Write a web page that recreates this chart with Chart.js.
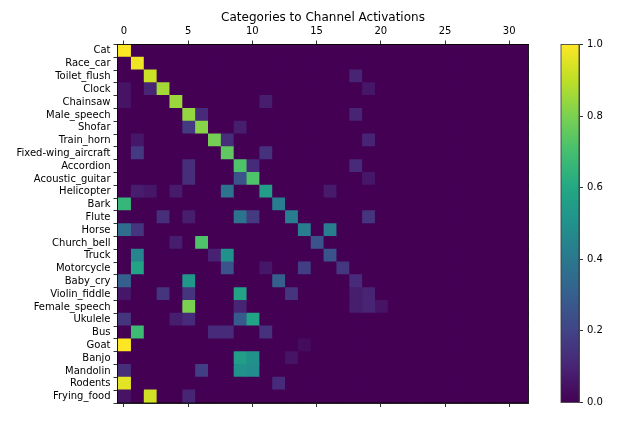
<!DOCTYPE html>
<html>
<head>
<meta charset="utf-8">
<script src="https://cdn.jsdelivr.net/npm/chart.js@4/dist/chart.umd.min.js"></script>
<style>
  body { margin: 0; background: #fff; }
  #wrap { position: relative; width: 623px; height: 422px; }
  #heat { position: absolute; left: 0; top: 0; }
  #cbar { position: absolute; left: 540px; top: 0; }
</style>
</head>
<body>
<div id="wrap">
  <canvas id="heat" width="623" height="422"></canvas>
  <canvas id="cbar" width="83" height="422"></canvas>
</div>
<script>
// Categories (rows, top to bottom)
const categories = [
    'Cat', 'Race_car', 'Toilet_flush', 'Clock', 'Chainsaw', 'Male_speech', 'Shofar',
    'Train_horn', 'Fixed-wing_aircraft', 'Accordion', 'Acoustic_guitar', 'Helicopter',
    'Bark', 'Flute', 'Horse', 'Church_bell', 'Truck', 'Motorcycle', 'Baby_cry',
    'Violin_fiddle', 'Female_speech', 'Ukulele', 'Bus', 'Goat', 'Banjo', 'Mandolin',
    'Rodents', 'Frying_food'
];

// Channels 0..31
const channels = [0, 1, 2, 3, 4, 5, 6, 7, 8, 9, 10, 11, 12, 13, 14, 15,
                  16, 17, 18, 19, 20, 21, 22, 23, 24, 25, 26, 27, 28, 29, 30, 31];

const xTicks = [0, 5, 10, 15, 20, 25, 30];
const cbarTicks = [0, 0.2, 0.4, 0.6, 0.8, 1.0];

// Non-zero activations per category: [channel, value]
const activations = [
    [[0, 1.0]],
    [[1, 0.98]],
    [[2, 0.92], [18, 0.1]],
    [[0, 0.05], [2, 0.1], [3, 0.86], [19, 0.06]],
    [[0, 0.05], [4, 0.85], [11, 0.08]],
    [[5, 0.84], [6, 0.12], [18, 0.1]],
    [[5, 0.17], [6, 0.82], [9, 0.08]],
    [[1, 0.06], [7, 0.79], [8, 0.13], [19, 0.1]],
    [[1, 0.17], [8, 0.75], [11, 0.14]],
    [[5, 0.13], [9, 0.72], [10, 0.12], [18, 0.12]],
    [[5, 0.13], [9, 0.25], [10, 0.72], [19, 0.06]],
    [[1, 0.08], [2, 0.06], [4, 0.07], [8, 0.38], [11, 0.55], [16, 0.07]],
    [[0, 0.66], [12, 0.42]],
    [[3, 0.13], [5, 0.08], [9, 0.38], [10, 0.17], [13, 0.42], [19, 0.15]],
    [[0, 0.35], [1, 0.15], [14, 0.42], [16, 0.42]],
    [[4, 0.08], [6, 0.72], [15, 0.26]],
    [[1, 0.45], [7, 0.09], [8, 0.5], [16, 0.26]],
    [[1, 0.58], [8, 0.25], [11, 0.06], [14, 0.18], [17, 0.16]],
    [[0, 0.3], [5, 0.52], [12, 0.3], [18, 0.12]],
    [[0, 0.06], [3, 0.15], [5, 0.15], [9, 0.58], [13, 0.15], [18, 0.08], [19, 0.1]],
    [[5, 0.8], [9, 0.1], [18, 0.08], [19, 0.1], [20, 0.05]],
    [[0, 0.15], [4, 0.08], [5, 0.12], [9, 0.28], [10, 0.58]],
    [[1, 0.68], [7, 0.12], [8, 0.12], [11, 0.14]],
    [[0, 1.0], [14, 0.03]],
    [[9, 0.55], [10, 0.5], [13, 0.05]],
    [[0, 0.13], [6, 0.18], [9, 0.5], [10, 0.48]],
    [[0, 0.96], [12, 0.12]],
    [[0, 0.05], [2, 0.93], [5, 0.1]]
];

const viridisStops = ['#440154', '#482475', '#414487', '#355f8d', '#2a788e', '#21918c',
                      '#22a884', '#44bf70', '#7ad151', '#bddf26', '#fde725'];

function hexToRgb(h) {
    return [parseInt(h.slice(1, 3), 16), parseInt(h.slice(3, 5), 16), parseInt(h.slice(5, 7), 16)];
}

function viridis(v) {
    v = Math.max(0, Math.min(1, v));
    const pos = v * (viridisStops.length - 1);
    const i = Math.min(Math.floor(pos), viridisStops.length - 2);
    const t = pos - i;
    const a = hexToRgb(viridisStops[i]);
    const b = hexToRgb(viridisStops[i + 1]);
    const c = a.map((x, k) => Math.round(x + (b[k] - x) * t));
    return 'rgb(' + c.join(',') + ')';
}

function valueAt(row, ch) {
    const hit = activations[row].find(p => p[0] === ch);
    return hit ? hit[1] : 0;
}

const font = { family: 'DejaVu Sans', size: 10 };

// draws the black frame round the plot area
const framePlugin = {
    id: 'frame',
    afterDraw(chart, args, opts) {
        const a = chart.chartArea;
        const ctx = chart.ctx;
        ctx.save();
        ctx.strokeStyle = opts.color || '#000';
        ctx.lineWidth = 0.8;
        ctx.strokeRect(a.left, a.top, a.right - a.left, a.bottom - a.top);
        ctx.restore();
    }
};

const tickGrid = {
    drawOnChartArea: false,
    drawTicks: true,
    tickLength: 4,
    color: '#000',
    lineWidth: 0.8
};

new Chart(document.getElementById('heat'), {
    type: 'bar',
    data: {
        labels: categories,
        datasets: channels.map(ch => ({
            data: categories.map(() => [ch - 0.5, ch + 0.5]),
            backgroundColor: categories.map((_, r) => viridis(valueAt(r, ch))),
            borderWidth: 0,
            inflateAmount: 0.6,
            barPercentage: 1,
            categoryPercentage: 1,
            grouped: false,
            xAxisID: 'x'
        }))
    },
    options: {
        indexAxis: 'y',
        responsive: false,
        animation: false,
        events: [],
        layout: { padding: { left: 0, right: 94.5, top: 0, bottom: 0 } },
        plugins: {
            legend: { display: false },
            tooltip: { enabled: false },
            title: {
                display: true,
                text: 'Categories to Channel Activations',
                fullSize: false,
                color: '#000',
                font: { family: 'DejaVu Sans', size: 12, weight: 'normal', lineHeight: 1.2 },
                padding: { top: 10.5, bottom: 0 }
            },
            frame: { color: '#000' }
        },
        scales: {
            x: {
                type: 'linear',
                position: 'top',
                min: -0.5,
                max: 31.5,
                afterBuildTicks: s => { s.ticks = xTicks.map(v => ({ value: v })); },
                afterFit: s => { s.height = 19.6; },
                grid: tickGrid,
                border: { color: '#000', width: 0.8 },
                ticks: { color: '#000', font: font, padding: 3, maxRotation: 0, autoSkip: false }
            },
            x2: {
                type: 'linear',
                position: 'bottom',
                min: -0.5,
                max: 31.5,
                afterBuildTicks: s => { s.ticks = xTicks.map(v => ({ value: v })); },
                afterFit: s => { s.height = 19; },
                grid: tickGrid,
                border: { color: '#000', width: 0.8 },
                ticks: { color: 'rgba(0,0,0,0)', font: font, maxRotation: 0, autoSkip: false }
            },
            y: {
                position: 'left',
                afterFit: s => { s.width = 117.5; },
                grid: tickGrid,
                border: { color: '#000', width: 0.8 },
                ticks: { color: '#000', font: font, padding: 3, autoSkip: false }
            }
        }
    },
    plugins: [framePlugin]
});

// colour bar
new Chart(document.getElementById('cbar'), {
    type: 'bar',
    data: {
        labels: [''],
        datasets: [{
            data: [[0, 1]],
            backgroundColor: ctx => {
                const area = ctx.chart.chartArea;
                if (!area) return viridisStops[0];
                const g = ctx.chart.ctx.createLinearGradient(0, area.bottom, 0, area.top);
                viridisStops.forEach((c, i) => g.addColorStop(i / (viridisStops.length - 1), c));
                return g;
            },
            borderWidth: 0,
            barPercentage: 1,
            categoryPercentage: 1
        }]
    },
    options: {
        responsive: false,
        animation: false,
        events: [],
        layout: { padding: { left: 21, right: 0, top: 44.5, bottom: 19.5 } },
        plugins: {
            legend: { display: false },
            tooltip: { enabled: false },
            frame: { color: '#333' }
        },
        scales: {
            x: { display: false },
            y: {
                position: 'right',
                min: 0,
                max: 1,
                afterBuildTicks: s => { s.ticks = cbarTicks.map(v => ({ value: v })); },
                afterFit: s => { s.width = 44; },
                grid: tickGrid,
                border: { color: '#333', width: 0.8 },
                ticks: {
                    color: '#000',
                    font: font,
                    padding: 4,
                    callback: v => Number(v).toFixed(1)
                }
            }
        }
    },
    plugins: [framePlugin]
});
</script>
</body>
</html>
